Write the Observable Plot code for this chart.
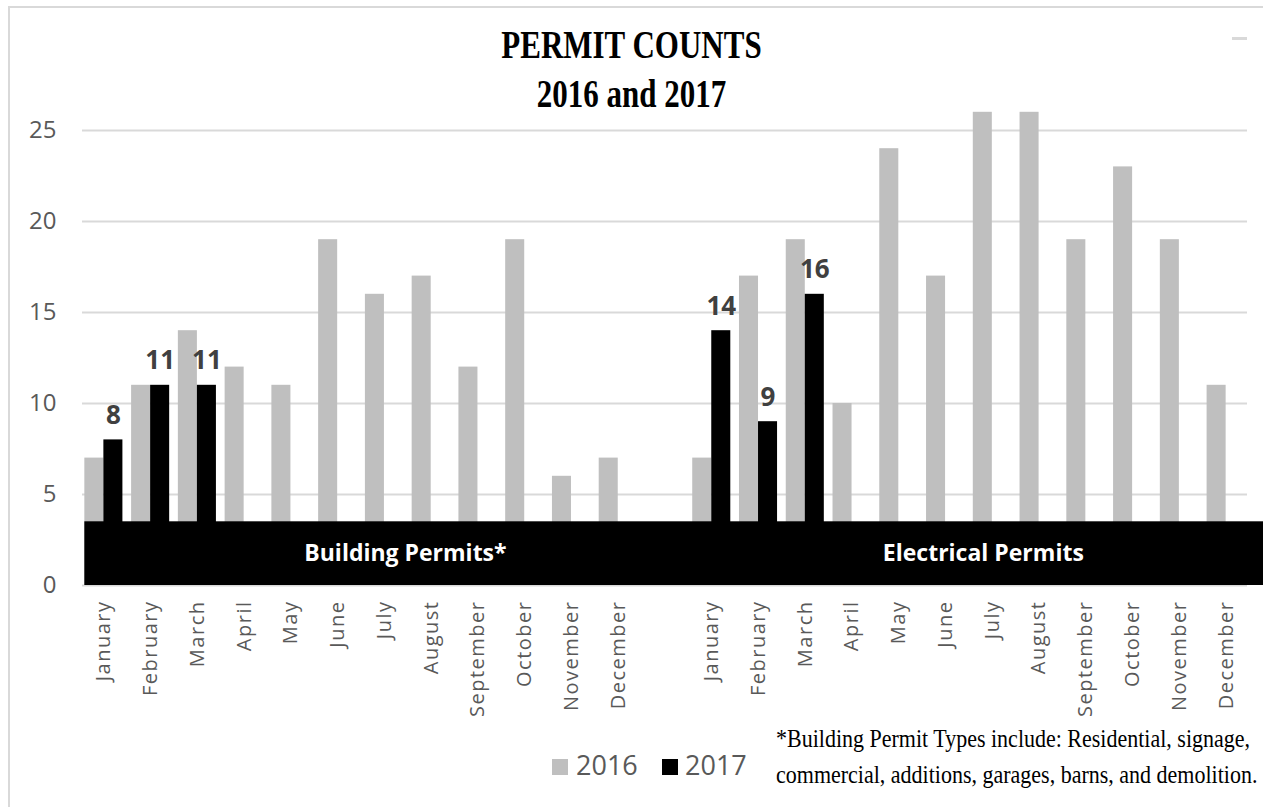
<!DOCTYPE html>
<html><head><meta charset="utf-8">
<script src="https://cdn.jsdelivr.net/npm/d3@7"></script>
<script src="https://cdn.jsdelivr.net/npm/@observablehq/plot@0.6"></script>
<style>
html,body{margin:0;padding:0;background:#fff;overflow:hidden;width:1263px;height:807px}
#page{position:relative;width:1263px;height:807px;overflow:hidden;background:#fff}
#frame{position:absolute;left:8px;top:6px;width:1400px;height:900px;border-top:2px solid #d9d9d9;border-left:2px solid #d9d9d9}
#dash{position:absolute;left:1232px;top:37px;width:15px;height:3px;background:#d9d9d9}
.title{position:absolute;left:0;width:1263px;text-align:center;font-family:"Liberation Serif","Times New Roman",serif;font-weight:bold;font-size:31px;line-height:31px;transform:scaleY(1.3);transform-origin:top;color:#000;white-space:nowrap}
#chart{position:absolute;left:0;top:100px}
#chart g[aria-label^="y-axis"] text{font-size:24px;fill:#595959}
#chart g[aria-label^="x-axis"] text{font-size:20px;fill:#595959;letter-spacing:1.5px}
.sw{position:absolute;width:16px;height:16px;top:759px}
.lg{position:absolute;top:751px;font-family:"Open Sans",sans-serif;font-size:27px;line-height:27px;color:#595959;white-space:nowrap}
.note{position:absolute;left:776px;font-family:"Liberation Serif","Times New Roman",serif;font-size:22px;line-height:22px;color:#000;white-space:nowrap;transform:scaleY(1.17);transform-origin:top}
</style>
</head>
<body>
<div id="page">
  <div id="frame"></div>
  <div id="dash"></div>
  <div id="t1" class="title" style="top:24px"></div>
  <div id="t2" class="title" style="top:73px"></div>
  <div id="chart"></div>
  <div id="legend"></div>
  <div id="n1" class="note" style="top:726px"></div>
  <div id="n2" class="note" style="top:762px"></div>
</div>
<script>
const titleLines = ["PERMIT COUNTS", "2016 and 2017"];
const months = ["January","February","March","April","May","June","July","August","September","October","November","December"];
const years = ["2016", "2017"];
const yearColors = ["#bfbfbf", "#000000"];
const building2016 = [7, 11, 14, 12, 11, 19, 16, 17, 12, 19, 6, 7];
const building2017 = [8, 11, 11];
const electrical2016 = [7, 17, 19, 10, 24, 17, 26, 26, 19, 23, 19, 11];
const electrical2017 = [14, 9, 16];
const groupLabels = ["Building Permits*", "Electrical Permits"];
const yTicks = [0, 5, 10, 15, 20, 25];
const bandValue = 3.5;
const noteLines = ["*Building Permit Types include: Residential, signage,", "commercial, additions, garages, barns, and demolition."];

document.getElementById("t1").textContent = titleLines[0];
document.getElementById("t2").textContent = titleLines[1];
document.getElementById("n1").textContent = noteLines[0];
document.getElementById("n2").textContent = noteLines[1];

const bKeys = months.map(m => "B|" + m);
const eKeys = months.map(m => "E|" + m);
const xDomain = [...bKeys, "gap", ...eKeys];
const toRows = (keys, values) => values.map((v, i) => ({key: keys[i], value: v}));
const rows2016 = [...toRows(bKeys, building2016), ...toRows(eKeys, electrical2016)];
const rows2017 = [...toRows(bKeys, building2017), ...toRows(eKeys, electrical2017)];

const W = 1263, H = 640, mL = 82, mR = 16, mT = 30, mB = 155;
const pIn = 0.186, pOut = 0.05;
const bw = d3.scaleBand().domain(xDomain).range([mL, W - mR]).paddingInner(pIn).paddingOuter(pOut).bandwidth();

const plot = Plot.plot({
  width: W, height: H,
  marginLeft: mL, marginRight: mR, marginTop: mT, marginBottom: mB,
  style: {fontFamily: "'Open Sans', sans-serif", background: "transparent", overflow: "visible"},
  x: {type: "band", domain: xDomain, paddingInner: pIn, paddingOuter: pOut, round: false,
      tickSize: 0, tickPadding: 15, tickRotate: -90,
      tickFormat: k => k === "gap" ? "" : k.split("|")[1], label: null},
  y: {domain: [0, 25], ticks: yTicks, tickSize: 0, tickPadding: 26, label: null},
  marks: [
    Plot.ruleY(yTicks, {stroke: "#d9d9d9", strokeWidth: 2}),
    Plot.barY(rows2016, {x: "key", y: "value", fill: yearColors[0], insetRight: bw / 2}),
    Plot.barY(rows2017, {x: "key", y: "value", fill: yearColors[1], insetLeft: bw / 2}),
    Plot.rect([bandValue], {x1: () => bKeys[0], x2: () => eKeys[11], y1: 0, y2: d => d, fill: "#000", insetRight: -bw * 0.8}),
    Plot.text([groupLabels[0]], {x: () => bKeys[6], y: () => bandValue / 2, text: d => d, dx: 21, fill: "#fff", fontSize: 23, fontWeight: "bold"}),
    Plot.text([groupLabels[1]], {x: () => eKeys[6], y: () => bandValue / 2, text: d => d, dx: -9, fill: "#fff", fontSize: 23, fontWeight: "bold"}),
    Plot.text(rows2017, {x: "key", y: "value", text: d => String(d.value), dx: bw / 4, dy: -16, lineAnchor: "bottom", fill: "#404040", fontSize: 26, fontWeight: "bold"})
  ]
});
document.getElementById("chart").appendChild(plot);

const legend = document.getElementById("legend");
const swLeft = [552, 662], txLeft = [576, 685];
years.forEach((y, i) => {
  const s = document.createElement("div");
  s.className = "sw"; s.style.left = swLeft[i] + "px"; s.style.background = yearColors[i];
  legend.appendChild(s);
  const t = document.createElement("div");
  t.className = "lg"; t.style.left = txLeft[i] + "px"; t.textContent = y;
  legend.appendChild(t);
});
</script>
</body></html>
